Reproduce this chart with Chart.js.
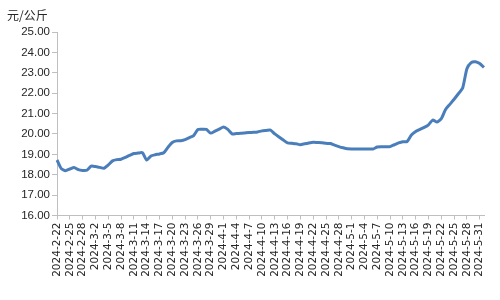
<!DOCTYPE html>
<html>
<head>
<meta charset="utf-8">
<script src="https://cdn.jsdelivr.net/npm/chart.js@4"></script>
<style>
  html, body { margin: 0; padding: 0; background: #fff; }
  #wrap { width: 500px; height: 300px; }
</style>
</head>
<body>
<div id="wrap"><canvas id="priceChart" width="500" height="300"></canvas></div>
<script>
// daily dates, 2024-2-22 .. 2024-6-1
var dates = [
  '2024-2-22', '2024-2-23', '2024-2-24', '2024-2-25', '2024-2-26', '2024-2-27', '2024-2-28', '2024-2-29',
  '2024-3-1', '2024-3-2', '2024-3-3', '2024-3-4', '2024-3-5', '2024-3-6', '2024-3-7', '2024-3-8',
  '2024-3-9', '2024-3-10', '2024-3-11', '2024-3-12', '2024-3-13', '2024-3-14', '2024-3-15', '2024-3-16',
  '2024-3-17', '2024-3-18', '2024-3-19', '2024-3-20', '2024-3-21', '2024-3-22', '2024-3-23', '2024-3-24',
  '2024-3-25', '2024-3-26', '2024-3-27', '2024-3-28', '2024-3-29', '2024-3-30', '2024-3-31',
  '2024-4-1', '2024-4-2', '2024-4-3', '2024-4-4', '2024-4-5', '2024-4-6', '2024-4-7', '2024-4-8',
  '2024-4-9', '2024-4-10', '2024-4-11', '2024-4-12', '2024-4-13', '2024-4-14', '2024-4-15', '2024-4-16',
  '2024-4-17', '2024-4-18', '2024-4-19', '2024-4-20', '2024-4-21', '2024-4-22', '2024-4-23', '2024-4-24',
  '2024-4-25', '2024-4-26', '2024-4-27', '2024-4-28', '2024-4-29', '2024-4-30',
  '2024-5-1', '2024-5-2', '2024-5-3', '2024-5-4', '2024-5-5', '2024-5-6', '2024-5-7', '2024-5-8',
  '2024-5-9', '2024-5-10', '2024-5-11', '2024-5-12', '2024-5-13', '2024-5-14', '2024-5-15', '2024-5-16',
  '2024-5-17', '2024-5-18', '2024-5-19', '2024-5-20', '2024-5-21', '2024-5-22', '2024-5-23', '2024-5-24',
  '2024-5-25', '2024-5-26', '2024-5-27', '2024-5-28', '2024-5-29', '2024-5-30', '2024-5-31',
  '2024-6-1'
];

// price, yuan per kg
var prices = [
  18.72, 18.30, 18.20, 18.28, 18.36, 18.25, 18.21, 18.22,
  18.42, 18.40, 18.36, 18.32, 18.48, 18.68, 18.74, 18.76,
  18.85, 18.95, 19.04, 19.06, 19.08, 18.72, 18.92, 18.98,
  19.02, 19.08, 19.35, 19.58, 19.66, 19.67, 19.72, 19.82,
  19.92, 20.22, 20.23, 20.22, 20.04, 20.14, 20.24,
  20.34, 20.22, 20.00, 20.02, 20.03, 20.05, 20.07, 20.08,
  20.10, 20.15, 20.17, 20.19, 20.00, 19.85, 19.70, 19.56,
  19.54, 19.52, 19.47, 19.52, 19.56, 19.59, 19.58, 19.57,
  19.54, 19.53, 19.45, 19.38, 19.32, 19.27,
  19.26, 19.26, 19.26, 19.26, 19.26, 19.26, 19.36, 19.37,
  19.37, 19.38, 19.47, 19.56, 19.62, 19.63, 19.95, 20.12,
  20.22, 20.32, 20.45, 20.68, 20.58, 20.75, 21.20, 21.45,
  21.70, 21.97, 22.25, 23.20, 23.50, 23.54, 23.45,
  23.26
];

var yMin = 16, yMax = 25, yStep = 1;
var unitLabel = '元/公斤';

var axisGray = '#bfbfbf';
var textColor = '#262626';

var unitPlugin = {
  id: 'unitLabel',
  afterDraw: function (chart) {
    var c = chart.ctx;
    c.save();
    c.fillStyle = textColor;
    c.font = '12px "Noto Sans CJK SC", sans-serif';
    c.textBaseline = 'middle';
    c.textAlign = 'left';
    c.fillText(unitLabel, 7, 15);
    c.restore();
  }
};

var ctx = document.getElementById('priceChart').getContext('2d');
var chart = new Chart(ctx, {
  type: 'line',
  data: {
    labels: dates,
    datasets: [{
      data: prices,
      borderColor: '#4a7ebb',
      borderWidth: 3,
      pointRadius: 0,
      tension: 0.2,
      fill: false
    }]
  },
  options: {
    responsive: false,
    animation: false,
    layout: { padding: { top: 32, right: 16, bottom: 0, left: 0 } },
    plugins: {
      legend: { display: false },
      tooltip: { enabled: false }
    },
    scales: {
      x: {
        grid: { drawOnChartArea: false, color: axisGray, tickLength: 4 },
        border: { color: axisGray },
        ticks: {
          autoSkip: false,
          maxRotation: 90,
          minRotation: 90,
          padding: 3,
          color: textColor,
          font: { family: 'DejaVu Sans', size: 10.5 },
          callback: function (v, i) {
            return i % 3 === 0 ? dates[i] : null;
          }
        },
        afterFit: function (s) { s.height = 84.5; }
      },
      y: {
        min: yMin,
        max: yMax,
        grid: { drawOnChartArea: false, color: axisGray, tickLength: 5 },
        border: { color: axisGray },
        ticks: {
          stepSize: yStep,
          padding: 2,
          color: textColor,
          font: { family: 'Liberation Sans', size: 11.5 },
          callback: function (v) { return v.toFixed(2); }
        },
        afterFit: function (s) { s.width = 57; }
      }
    }
  },
  plugins: [unitPlugin]
});
</script>
</body>
</html>
